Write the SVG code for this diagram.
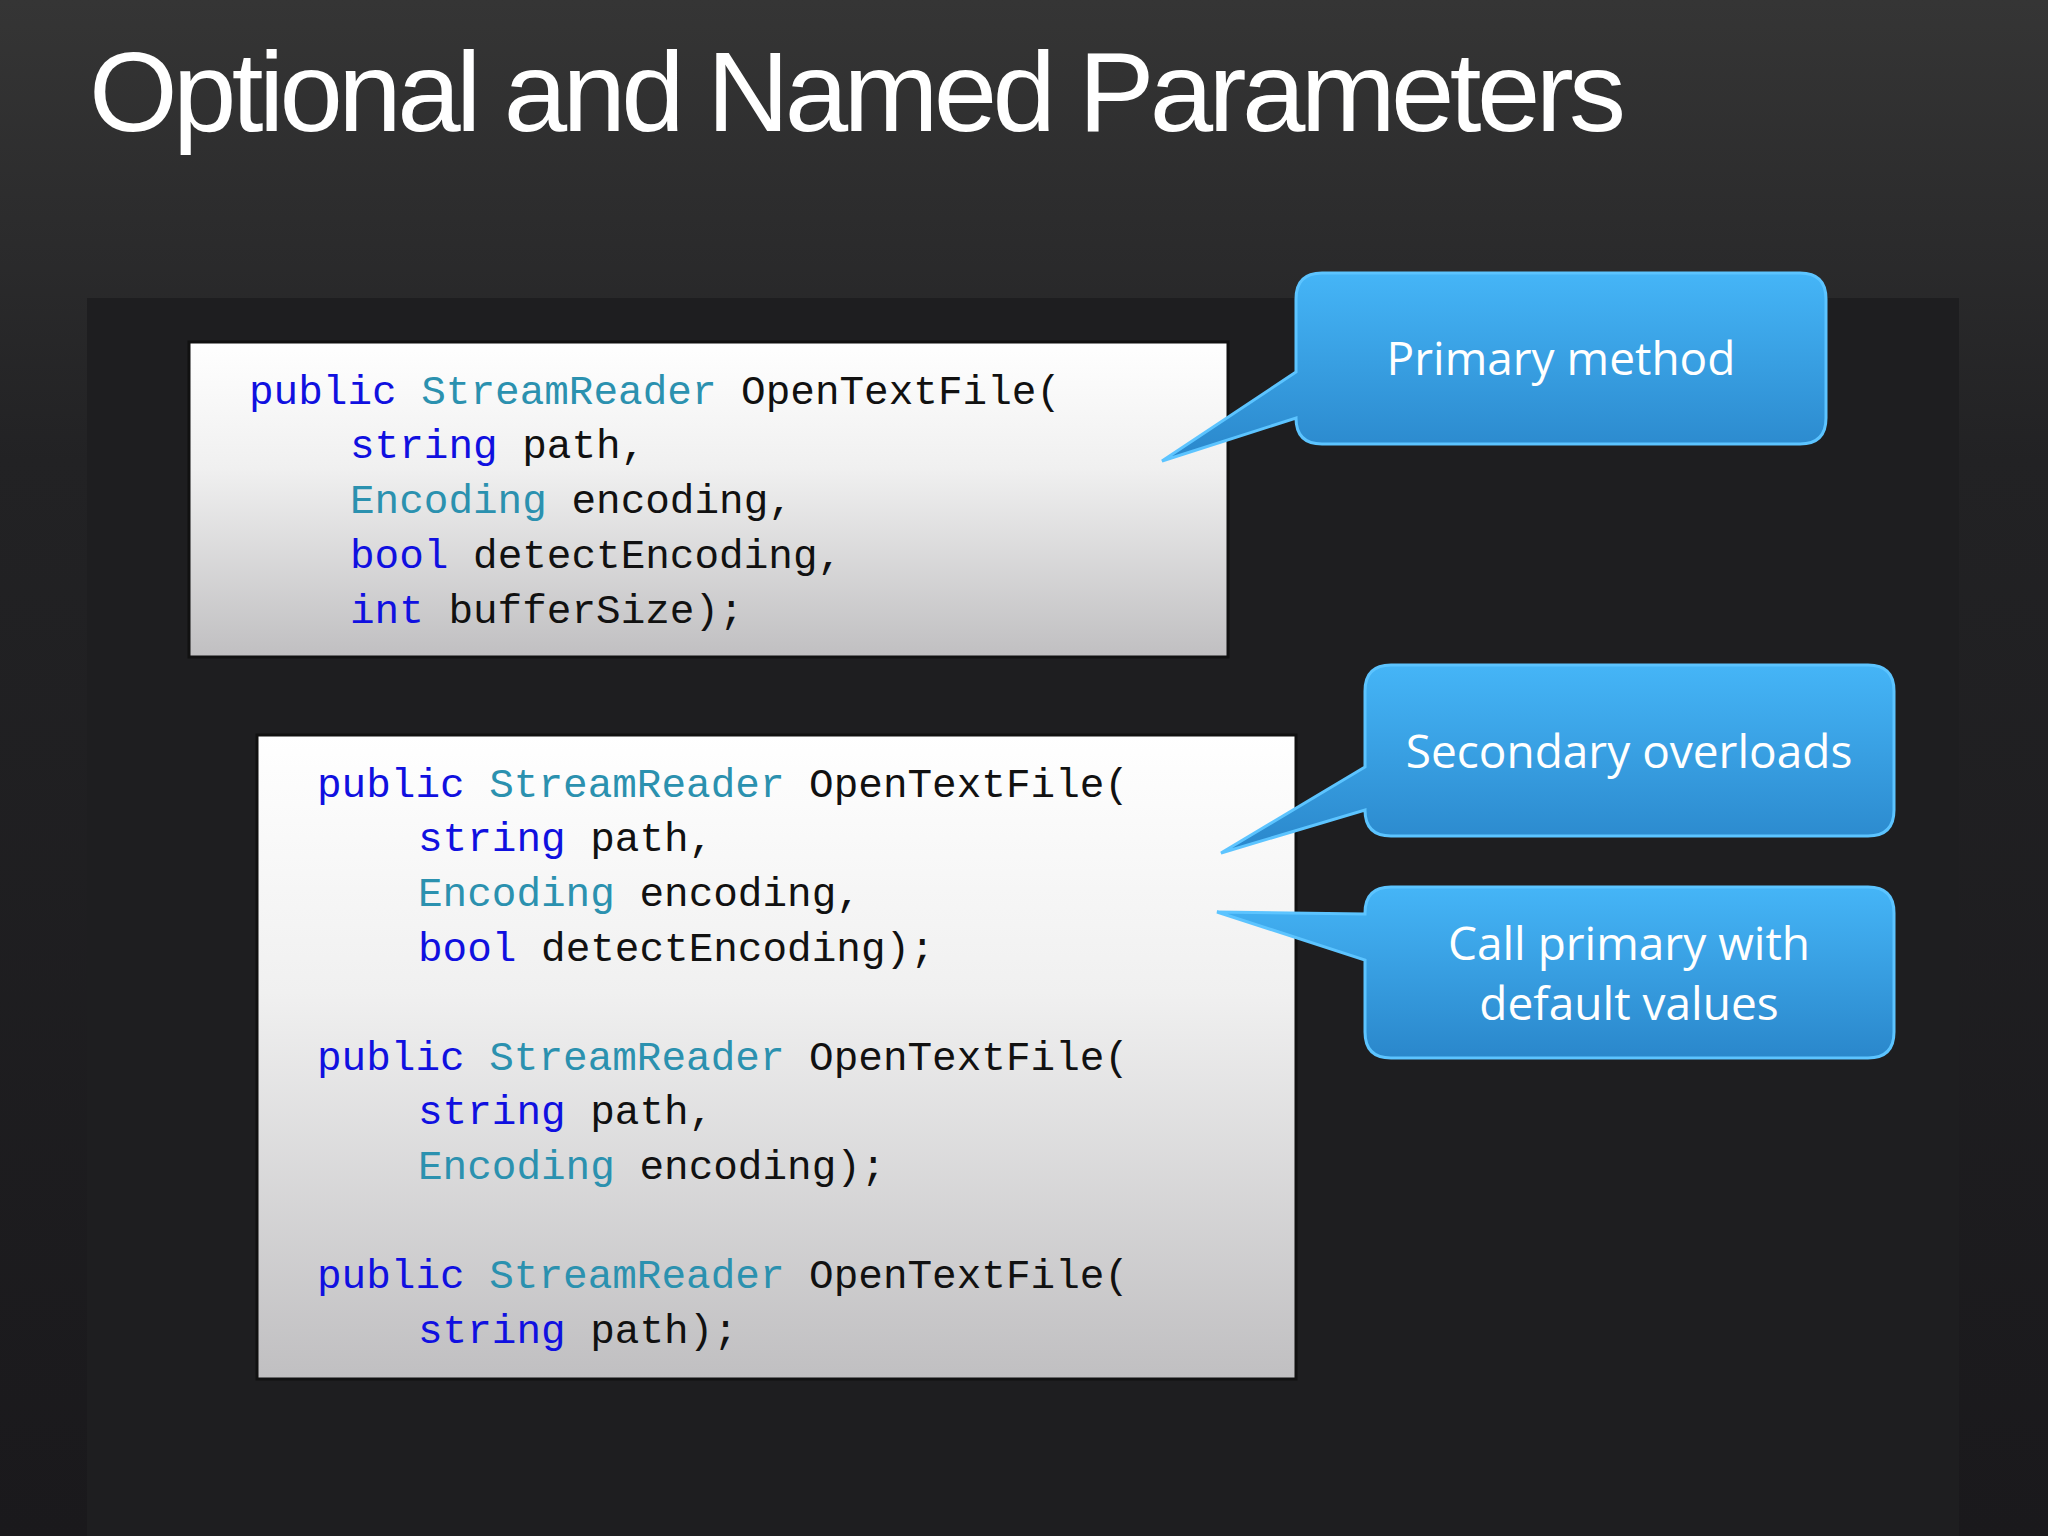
<svg xmlns="http://www.w3.org/2000/svg" width="2048" height="1536" viewBox="0 0 2048 1536">
<defs>
<linearGradient id="bg" x1="0" y1="0" x2="0" y2="1"><stop offset="0" stop-color="#353535"/><stop offset="0.3" stop-color="#222224"/><stop offset="1" stop-color="#1a191c"/></linearGradient>
<linearGradient id="box" x1="0" y1="0" x2="0" y2="1"><stop offset="0" stop-color="#ffffff"/><stop offset="0.4" stop-color="#f0f0f0"/><stop offset="1" stop-color="#c0bfc1"/></linearGradient>
<linearGradient id="call" x1="0" y1="0" x2="0" y2="1"><stop offset="0" stop-color="#45b5f7"/><stop offset="1" stop-color="#2a87cb"/></linearGradient>
</defs>
<style>
.code{font-family:"Liberation Mono","DejaVu Sans Mono",monospace;font-size:41px;fill:#111}
.k{fill:#1010e0}.t{fill:#2b91af}
.cl{fill:url(#call);stroke:#5cc4ff;stroke-width:3}
.ct{font-family:"Open Sans","Noto Sans",sans-serif;font-size:46px;fill:#fff;text-anchor:middle}
.bx{fill:url(#box);stroke:#111;stroke-width:3}
</style>
<rect width="2048" height="1536" fill="url(#bg)"/>
<rect x="87" y="298" width="1872" height="1238" fill="#1e1e20"/>
<text x="89" y="131" font-family="Liberation Sans, Arial, sans-serif" font-size="114" fill="#fff" textLength="1537">Optional and Named Parameters</text>
<g id="primary-box">
<rect class="bx" x="189" y="342" width="1039" height="315"/>
<text class="code"><tspan x="249" y="404"><tspan class="k">public</tspan> <tspan class="t">StreamReader</tspan> OpenTextFile(</tspan><tspan x="350" y="458"><tspan class="k">string</tspan> path,</tspan><tspan x="350" y="513"><tspan class="t">Encoding</tspan> encoding,</tspan><tspan x="350" y="568"><tspan class="k">bool</tspan> detectEncoding,</tspan><tspan x="350" y="623"><tspan class="k">int</tspan> bufferSize);</tspan></text>
</g>
<g id="overloads-box">
<rect class="bx" x="257" y="735" width="1039" height="644"/>
<text class="code"><tspan x="317" y="797"><tspan class="k">public</tspan> <tspan class="t">StreamReader</tspan> OpenTextFile(</tspan><tspan x="418" y="851"><tspan class="k">string</tspan> path,</tspan><tspan x="418" y="906"><tspan class="t">Encoding</tspan> encoding,</tspan><tspan x="418" y="961"><tspan class="k">bool</tspan> detectEncoding);</tspan><tspan x="317" y="1070"><tspan class="k">public</tspan> <tspan class="t">StreamReader</tspan> OpenTextFile(</tspan><tspan x="418" y="1124"><tspan class="k">string</tspan> path,</tspan><tspan x="418" y="1179"><tspan class="t">Encoding</tspan> encoding);</tspan><tspan x="317" y="1288"><tspan class="k">public</tspan> <tspan class="t">StreamReader</tspan> OpenTextFile(</tspan><tspan x="418" y="1343"><tspan class="k">string</tspan> path);</tspan></text>
</g>
<g id="callout-primary">
<path class="cl" d="M1322,273 H1800 Q1826,273 1826,299 V418 Q1826,444 1800,444 H1322 Q1296,444 1296,418 L1162,461 L1296,372 V299 Q1296,273 1322,273 Z"/>
<text class="ct" x="1561" y="375">Primary method</text>
</g>
<g id="callout-secondary">
<path class="cl" d="M1391,665 H1868 Q1894,665 1894,691 V810 Q1894,836 1868,836 H1391 Q1365,836 1365,810 L1221,853 L1365,767 V691 Q1365,665 1391,665 Z"/>
<text class="ct" x="1629" y="768">Secondary overloads</text>
</g>
<g id="callout-default">
<path class="cl" d="M1391,887 H1868 Q1894,887 1894,913 V1032 Q1894,1058 1868,1058 H1391 Q1365,1058 1365,1032 V960 L1217,912 L1365,914 V913 Q1365,887 1391,887 Z"/>
<text class="ct" x="1629" y="960">Call primary with</text>
<text class="ct" x="1629" y="1020">default values</text>
</g>
<g id="connectors"/>
</svg>
